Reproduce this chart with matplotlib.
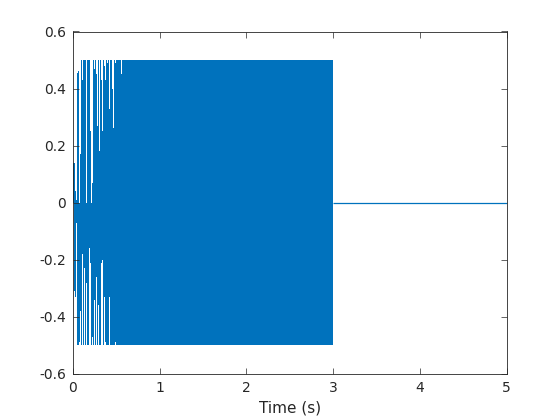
import matplotlib
matplotlib.use('Agg')
import matplotlib.pyplot as plt
import numpy as np

# early part of the sweep: one stroke per pixel column
early_t = [0.008, 0.020, 0.031, 0.043, 0.054, 0.066, 0.077, 0.089, 0.100, 0.112,
           0.123, 0.135, 0.146, 0.158, 0.169, 0.181, 0.192, 0.204, 0.215, 0.227,
           0.238, 0.250, 0.261, 0.273, 0.285, 0.296, 0.308, 0.319, 0.331, 0.342,
           0.354, 0.365, 0.377, 0.388, 0.400, 0.411, 0.423, 0.434, 0.446, 0.457,
           0.469, 0.480, 0.492, 0.503, 0.515, 0.526, 0.538, 0.549, 0.561]
early_lo = [0.00, -0.31, -0.33, -0.07, -0.50, -0.50, -0.49, -0.38, -0.50, -0.18,
            -0.50, -0.23, -0.50, -0.28, -0.50, -0.50, -0.16, -0.21, -0.50, -0.47,
            -0.50, -0.34, -0.50, -0.26, -0.50, -0.36, -0.50, -0.50, -0.21, -0.20,
            -0.50, -0.33, -0.49, -0.50, -0.50, -0.50, -0.33, -0.50, -0.50, -0.50,
            -0.50, -0.50, -0.49, -0.50, -0.50, -0.50, -0.50, -0.50, -0.50]
early_hi = [0.14, 0.14, 0.04, 0.01, 0.455, 0.46, 0.00, 0.17, 0.50, 0.43,
            0.50, 0.50, 0.50, 0.00, 0.50, 0.50, 0.50, 0.25, 0.00, 0.07,
            0.50, 0.47, 0.50, 0.45, 0.27, 0.50, 0.18, 0.50, 0.43, 0.25,
            0.50, 0.48, 0.43, 0.50, 0.49, 0.50, 0.33, 0.50, 0.50, 0.40,
            0.26, 0.50, 0.49, 0.50, 0.50, 0.50, 0.50, 0.50, 0.45]

# dense part (oscillation fills the whole envelope) and the silent tail
band_t = [0.564, 3.0]
band_hi = [0.5, 0.5]
band_lo = [-0.5, -0.5]
tail_t = [3.0, 5.0]
tail_y = [0.0, 0.0]

xticks = [0, 1, 2, 3, 4, 5]
yticks = [-0.6, -0.4, -0.2, 0, 0.2, 0.4, 0.6]

blue = '#0072BD'
dark = '#262626'

plt.rcParams['font.family'] = 'DejaVu Sans'
plt.rcParams['axes.unicode_minus'] = False

fig = plt.figure(figsize=(5.6, 4.2), dpi=100)
ax = fig.add_axes([0.13, 0.11, 0.775, 0.815])

# each early stroke is a one-pixel-wide column from its low to its high value
lo = np.array(early_lo)
hi = np.array(early_hi)
ax.bar(early_t, hi - lo, bottom=lo, width=0.0105, color=blue, linewidth=0,
       antialiased=False)
ax.fill_between(band_t, band_lo, band_hi, color=blue, linewidth=0)
ax.plot(tail_t, tail_y, color=blue, linewidth=0.9, solid_capstyle='butt')

ax.set_xlim(0, 5)
ax.set_ylim(-0.6, 0.6)
ax.set_xticks(xticks)
ax.set_yticks(yticks)
ax.set_xticklabels([str(v) for v in xticks])
ax.set_yticklabels(['%g' % v for v in yticks])
ax.set_xlabel('Time (s)', fontsize=11, color=dark, labelpad=4)

ax.tick_params(direction='in', length=4.5, width=0.5, colors=dark, labelsize=10,
               top=True, right=True, pad=5)
for s in ax.spines.values():
    s.set_linewidth(0.6)
    s.set_color(dark)

fig.savefig('out.png', dpi=100)
